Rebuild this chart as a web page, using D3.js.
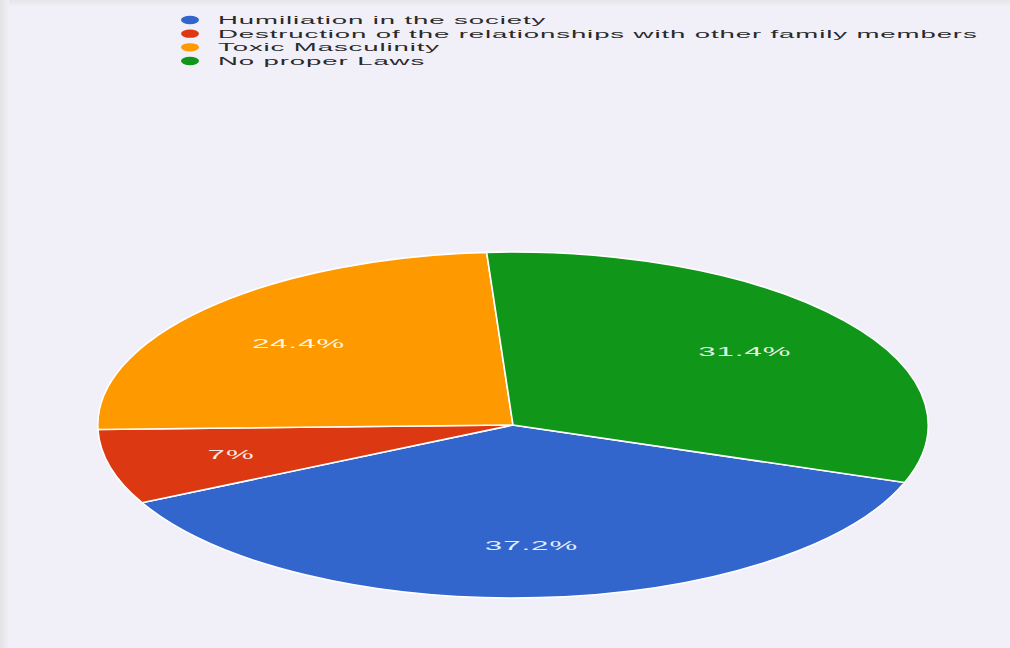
<!DOCTYPE html>
<html>
<head>
<meta charset="utf-8">
<script src="https://cdn.jsdelivr.net/npm/d3@7"></script>
<style>
  html, body { margin: 0; padding: 0; background: #f1f0f9; }
  svg { display: block; }
  text { font-family: "Liberation Sans", Arial, sans-serif; }
</style>
</head>
<body>
<svg id="chart" width="1010" height="648"></svg>
<script>
// Survey answers and their shares (%)
const categories = [
  "Humiliation in the society",
  "Destruction of the relationships with other family members",
  "Toxic Masculinity",
  "No proper Laws"
];
const shares = [37.2, 7, 24.4, 31.4];
const sliceLabels = ["37.2%", "7%", "24.4%", "31.4%"];
const palette = ["#3366cc", "#dc3912", "#ff9900", "#109618"];

const W = 1010, H = 648;
const stretchX = 2.4;          // horizontal stretch of the whole drawing
const cx = 513, cy = 425, R = 173;
const startDeg = 109.4;        // first slice begins here, clockwise from 12 o'clock

const svg = d3.select("#chart");

// page background with a soft top/left edge
const defs = svg.append("defs");
const lg = defs.append("linearGradient").attr("id", "leftEdge").attr("x1", 0).attr("x2", 1);
lg.append("stop").attr("offset", 0).attr("stop-color", "#e2e2e4");
lg.append("stop").attr("offset", 1).attr("stop-color", "#f1f0f9");
const tg = defs.append("linearGradient").attr("id", "topEdge").attr("x1", 0).attr("x2", 0).attr("y1", 0).attr("y2", 1);
tg.append("stop").attr("offset", 0).attr("stop-color", "#e6e6e8");
tg.append("stop").attr("offset", 1).attr("stop-color", "#f1f0f9");

svg.append("rect").attr("width", W).attr("height", H).attr("fill", "#f1f0f9");
svg.append("rect").attr("width", W).attr("height", 7).attr("fill", "url(#topEdge)");
svg.append("rect").attr("width", 9).attr("height", H).attr("fill", "url(#leftEdge)");

const color = d3.scaleOrdinal().domain(categories).range(palette);

const data = categories.map((c, i) => ({ name: c, value: shares[i], label: sliceLabels[i] }));

const startRad = startDeg * Math.PI / 180;
const pie = d3.pie()
  .value(d => d.value)
  .sort(null)
  .startAngle(startRad)
  .endAngle(startRad + 2 * Math.PI);

const arcs = pie(data);
const arc = d3.arc().innerRadius(0).outerRadius(R);
const labelArc = d3.arc().innerRadius(R * 0.7).outerRadius(R * 0.7);

const pieG = svg.append("g")
  .attr("transform", `translate(${cx},${cy}) scale(${stretchX},1)`);

pieG.selectAll("path.slice")
  .data(arcs)
  .join("path")
  .attr("class", "slice")
  .attr("d", arc)
  .attr("fill", d => color(d.data.name))
  .attr("stroke", "#ffffff")
  .attr("stroke-width", 1.6)
  .attr("vector-effect", "non-scaling-stroke");

pieG.selectAll("text.pct")
  .data(arcs)
  .join("text")
  .attr("class", "pct")
  .attr("transform", d => {
    const [x, y] = labelArc.centroid(d);
    return `translate(${x},${y})`;
  })
  .attr("text-anchor", "middle")
  .attr("dy", "0.35em")
  .attr("font-size", 13)
  .attr("letter-spacing", 0.4)
  .attr("fill", "#ffffff")
  .attr("fill-opacity", 0.9)
  .text(d => d.data.label);

// legend
const rowY = d3.scalePoint().domain(categories).range([20, 61]);
const legend = svg.append("g");
const rows = legend.selectAll("g.row")
  .data(categories)
  .join("g")
  .attr("class", "row")
  .attr("transform", d => `translate(0,${rowY(d)})`);

rows.append("ellipse")
  .attr("cx", 190)
  .attr("cy", 0)
  .attr("rx", 9)
  .attr("ry", 4.2)
  .attr("fill", d => color(d));

rows.append("text")
  .attr("transform", `translate(218,0) scale(${stretchX},1)`)
  .attr("dy", "0.35em")
  .attr("font-size", 11.5)
  .attr("letter-spacing", 0.37)
  .attr("fill", "#2a2a2a")
  .text(d => d);
</script>
</body>
</html>
